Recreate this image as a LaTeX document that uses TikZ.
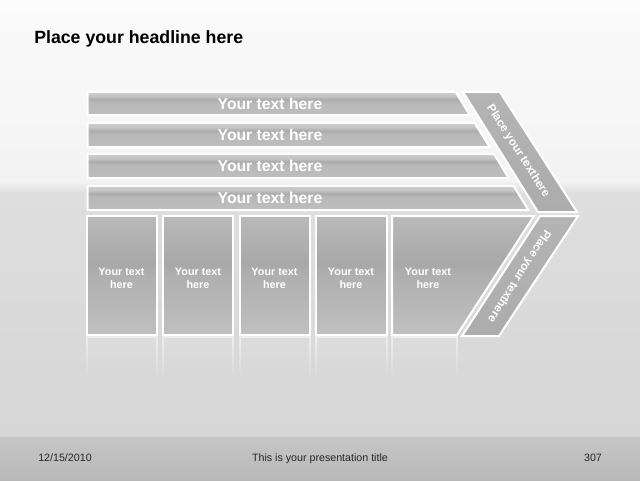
\documentclass[tikz,border=0pt]{standalone}
\usepackage{fontspec}
\setmainfont{Liberation Sans}
\usetikzlibrary{fadings}
\definecolor{bgtop}{HTML}{FBFBFB}
\definecolor{bgmid}{HTML}{F3F3F3}
\definecolor{floorA}{HTML}{DEDEDE}
\definecolor{floorB}{HTML}{D6D6D6}
\definecolor{footA}{HTML}{C6C6C6}
\definecolor{footB}{HTML}{B8B8B8}
\definecolor{ba}{HTML}{BEBEBE}
\definecolor{bb}{HTML}{B8B8B8}
\definecolor{bc}{HTML}{ABABAB}
\definecolor{bd}{HTML}{C7C7C7}
\definecolor{xa}{HTML}{C0C0C0}
\definecolor{xb}{HTML}{AFAFAF}
\definecolor{xc}{HTML}{A8A8A8}
\definecolor{xd}{HTML}{B9B9B9}
\definecolor{banda}{HTML}{B4B4B4}
\definecolor{bandb}{HTML}{ACACAC}
\pgfdeclareverticalshading{barshade}{100bp}{color(0bp)=(ba); color(25bp)=(ba); color(52bp)=(bb); color(59bp)=(bc); color(67bp)=(bd); color(75bp)=(bd); color(100bp)=(bd)}
\pgfdeclareverticalshading{boxshade}{100bp}{color(0bp)=(xa); color(25bp)=(xa); color(50bp)=(xb); color(55bp)=(xc); color(75bp)=(xd); color(100bp)=(xd)}
\begin{document}
\begin{tikzpicture}[x=0.75pt,y=-0.75pt,
  outl/.style={draw=white,line width=1.5pt,line join=miter},
  barshape/.style={outl,shading=barshade},
  boxshape/.style={outl,shading=boxshade},
  bandshape/.style={outl,top color=banda,bottom color=bandb},
  bartext/.style={text=white,font=\bfseries\fontsize{11.8}{14}\selectfont,inner sep=0pt},
  boxtext/.style={text=white,font=\bfseries\fontsize{8.1}{9.75}\selectfont,align=center,inner sep=0pt},
  bandtext/.style={text=white,font=\bfseries\fontsize{8.7}{10}\selectfont,inner sep=0pt},
  foottext/.style={text=black!85,font=\fontsize{8}{10}\selectfont,inner sep=0pt,anchor=base},
  refl/.style={draw=white,line width=1.2pt,fill=white,fill opacity=0.1,draw opacity=0.55,path fading=south}]
\useasboundingbox (0,0) rectangle (640,480);
% background
\shade[top color=bgtop,bottom color=bgmid] (0,0) rectangle (640,181);
\shade[top color=bgmid,bottom color=floorA] (0,181) rectangle (640,193);
\shade[top color=floorA,bottom color=floorB] (0,193) rectangle (640,437);
\shade[top color=footA,bottom color=footB] (0,437) rectangle (640,480);
% headline
\node[anchor=base west,inner sep=0pt,font=\bfseries\fontsize{13.3}{16}\selectfont] (head) at (34,43) {Place your headline here};
% bars
\path[barshape] (87.5,92) -- (455.6,92) -- (469.8,115) -- (87.5,115) -- cycle;
\path[barshape] (87.5,123) -- (474.7,123) -- (489.6,147) -- (87.5,147) -- cycle;
\path[barshape] (87.5,154) -- (493.9,154) -- (508.7,178) -- (87.5,178) -- cycle;
\path[barshape] (87.5,186) -- (513.6,186) -- (528.4,210) -- (87.5,210) -- cycle;
\node[bartext] (t1) at (270,103.5) {Your text here};
\node[bartext] (t2) at (270,135) {Your text here};
\node[bartext] (t3) at (270,166) {Your text here};
\node[bartext] (t4) at (270,198) {Your text here};
% reflections
\path[refl] (87,337) rectangle (157,378);
\path[refl] (163,337) rectangle (233,378);
\path[refl] (240,337) rectangle (310,378);
\path[refl] (316,337) rectangle (387,378);
\path[refl] (392,337) rectangle (457,378);
% boxes
\path[boxshape] (87,216) rectangle (157,335);
\path[boxshape] (163,216) rectangle (233,335);
\path[boxshape] (240,216) rectangle (310,335);
\path[boxshape] (316,216) rectangle (387,335);
\path[boxshape] (392,216) -- (534,216) -- (457,335) -- (392,335) -- cycle;
\node[boxtext] (b1) at (121.5,278.5) {Your text\\here};
\node[boxtext] (b2) at (198,278.5) {Your text\\here};
\node[boxtext] (b3) at (274.5,278.5) {Your text\\here};
\node[boxtext] (b4) at (351,278.5) {Your text\\here};
\node[boxtext] (b5) at (428,278.5) {Your text\\here};
% bands
\path[bandshape] (463,92) -- (500,92) -- (577,212) -- (538,212) -- cycle;
\path[bandshape] (540,216) -- (578,216) -- (499,336) -- (462,336) -- cycle;
\node[bandtext,rotate=-57.5] (u) at (518,151) {Place your texthere};
\node[bandtext,rotate=-122.5] (l) at (519,276) {Place your texthere};
% footer
\node[foottext] (date) at (65,461.5) {12/15/2010};
\node[foottext] (title) at (320,461.5) {This is your presentation title};
\node[foottext] (page) at (593,461.5) {307};
\end{tikzpicture}
\end{document}
